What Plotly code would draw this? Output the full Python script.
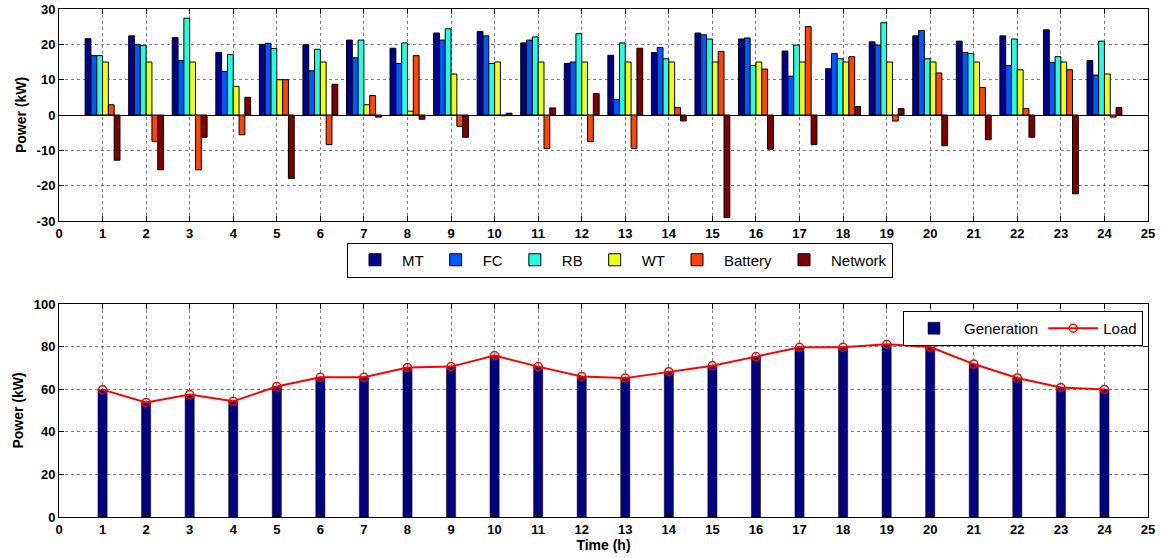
import plotly.graph_objects as go

hours = list(range(1, 25))

MT = [21.6, 22.4, 21.9, 17.7, 20.0, 19.9, 21.2, 18.9, 23.2, 23.6, 20.4, 14.6,
      16.9, 17.7, 23.2, 21.5, 18.1, 13.1, 20.7, 22.4, 20.9, 22.4, 24.1, 15.4]
FC = [16.8, 20.0, 15.4, 12.3, 20.3, 12.5, 16.2, 14.6, 21.2, 22.4, 21.2, 15.0,
      4.4, 19.1, 22.7, 21.8, 11.0, 17.4, 19.8, 23.9, 17.7, 14.0, 14.9, 11.3]
RB = [16.8, 19.7, 27.4, 17.1, 18.8, 18.6, 21.2, 20.4, 24.4, 14.6, 22.1, 23.0,
      20.4, 15.9, 21.5, 14.0, 19.8, 15.9, 26.1, 15.9, 17.4, 21.5, 16.5, 20.9]
WT = [15.0, 15.0, 15.0, 8.1, 10.0, 15.0, 2.9, 1.1, 11.6, 15.0, 15.0, 15.0,
      15.0, 15.0, 15.0, 15.0, 15.0, 15.0, 15.0, 15.0, 15.0, 12.8, 15.0, 11.6]
Battery = [2.9, -7.5, -15.5, -5.6, 10.0, -8.4, 5.5, 16.8, -3.2, -0.2, -9.5, -7.5,
           -9.5, 2.1, 18.0, 13.0, 25.0, 16.5, -1.7, 11.9, 7.8, 1.8, 12.8, -0.6]
Network = [-12.8, -15.5, -6.3, 5.0, -18.0, 8.7, -0.6, -1.2, -6.3, 0.5, 2.0, 6.1,
           18.9, -1.7, -29.0, -9.7, -8.4, 2.4, 1.8, -8.7, -7.0, -6.3, -22.3, 2.1]

Load = [59.8, 53.8, 57.5, 54.3, 61.3, 65.6, 65.6, 70.2, 70.6, 75.8, 70.6, 66.0,
        65.2, 68.2, 71.0, 75.3, 79.7, 79.7, 81.1, 79.8, 71.8, 65.3, 60.8, 59.9]
Generation = [59.8, 53.8, 57.5, 54.3, 61.3, 65.6, 65.6, 70.2, 70.6, 75.8, 70.6, 66.0,
              65.2, 68.2, 71.0, 75.3, 79.7, 79.7, 81.1, 79.8, 71.8, 65.3, 60.8, 59.9]

x_ticks = list(range(0, 26))
y1_ticks = [-30, -20, -10, 0, 10, 20, 30]
y2_ticks = [0, 20, 40, 60, 80, 100]

series_names = ["MT", "FC", "RB", "WT", "Battery", "Network"]
series_vals = [MT, FC, RB, WT, Battery, Network]
series_cols = ["#00008F", "#0058FF", "#20FFDF", "#EFFF10", "#FF4500", "#800000"]

font_fam = "Liberation Sans"
tick_font = dict(family=font_fam, size=13, color="black", weight=700)
title_font = dict(family=font_fam, size=14, color="black", weight=700)

fig = go.Figure()

for name, vals, col in zip(series_names, series_vals, series_cols):
    fig.add_trace(go.Bar(
        x=hours, y=vals, name=name, marker=dict(color=col, line=dict(color="black", width=1)),
        xaxis="x", yaxis="y", legend="legend", offsetgroup=name,
    ))

fig.add_trace(go.Bar(
    x=hours, y=Generation, name="Generation", width=0.21, offset=-0.105,
    marker=dict(color="#000080", line=dict(color="black", width=0.5)),
    xaxis="x2", yaxis="y2", legend="legend2",
))
fig.add_trace(go.Scatter(
    x=hours, y=Load, name="Load", mode="lines+markers",
    line=dict(color="#FF0000", width=2),
    marker=dict(symbol="circle-open", size=8, color="#FF0000", line=dict(width=1.5)),
    xaxis="x2", yaxis="y2", legend="legend2",
))

xdom = [59 / 1161, 1148 / 1161]
common_axis = dict(
    showline=True, linecolor="black", linewidth=1, mirror="allticks",
    ticks="inside", ticklen=5, tickcolor="black",
    showgrid=True, gridcolor="rgba(0,0,0,0.5)", griddash="dot", gridwidth=1,
    tickfont=tick_font, automargin=False,
)

fig.update_layout(
    width=1161, height=558,
    margin=dict(l=0, r=0, t=0, b=0, autoexpand=False),
    paper_bgcolor="white", plot_bgcolor="white",
    barmode="group", bargap=0.2, bargroupgap=0.0,
    xaxis=dict(domain=xdom, anchor="y", range=[0, 25], tickmode="array",
               tickvals=x_ticks, ticktext=[str(v) for v in x_ticks],
               zeroline=False, **common_axis),
    yaxis=dict(domain=[1 - 221 / 558, 1 - 9 / 558], anchor="x", range=[-30, 30],
               tickmode="array", tickvals=y1_ticks, ticktext=[str(v) for v in y1_ticks],
               title=dict(text="Power (kW)", font=title_font, standoff=6),
               zeroline=True, zerolinecolor="black", zerolinewidth=1, **common_axis),
    xaxis2=dict(domain=xdom, anchor="y2", range=[0, 25], tickmode="array",
                tickvals=x_ticks, ticktext=[str(v) for v in x_ticks],
                title=dict(text="Time (h)", font=title_font, standoff=4),
                zeroline=False, **common_axis),
    yaxis2=dict(domain=[1 - 517 / 558, 1 - 304 / 558], anchor="x2", range=[0, 100],
                tickmode="array", tickvals=y2_ticks, ticktext=[str(v) for v in y2_ticks],
                title=dict(text="Power (kW)", font=title_font, standoff=6),
                zeroline=False, **common_axis),
    legend=dict(orientation="h", x=620 / 1161, xanchor="center", y=1 - 260 / 558, yanchor="middle",
                bordercolor="black", borderwidth=1, bgcolor="white",
                font=dict(family=font_fam, size=15, color="black"), itemwidth=44,
                traceorder="normal"),
    legend2=dict(orientation="h", x=1143 / 1161, xanchor="right", y=1 - 311 / 558, yanchor="top",
                 bordercolor="black", borderwidth=1, bgcolor="white",
                 font=dict(family=font_fam, size=15, color="black"), itemwidth=50,
                 traceorder="normal"),
    showlegend=True,
)

fig.write_html("out.html", config={"displayModeBar": False},
               post_script="document.body.style.margin='0px';document.body.style.overflow='hidden';")
